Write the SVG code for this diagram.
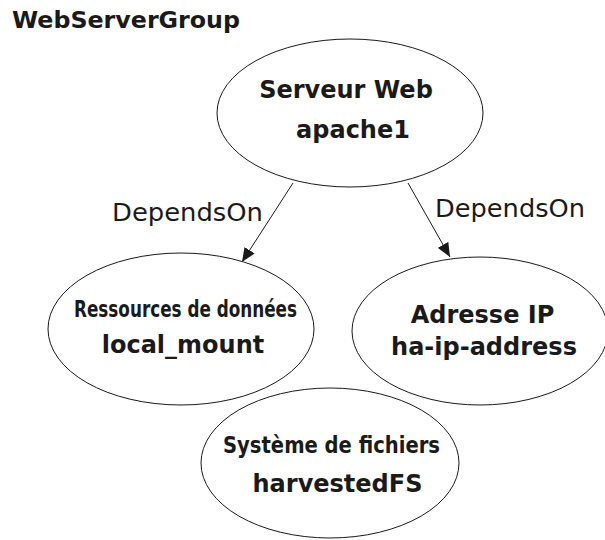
<svg xmlns="http://www.w3.org/2000/svg" width="605" height="540" viewBox="0 0 605 540">
  <style>
    .node { fill: #ffffff; stroke: #1a1a1a; stroke-width: 1; }
    .title { font-family: "DejaVu Sans", Verdana, sans-serif; font-weight: bold; font-size: 23px; fill: #1a1a1a; }
    .lbl { font-family: "DejaVu Sans", Verdana, sans-serif; font-weight: bold; font-size: 24px; fill: #1a1a1a; text-anchor: middle; }
    .cond { font-family: "DejaVu Sans", sans-serif; font-stretch: condensed; font-weight: bold; font-size: 23px; fill: #1a1a1a; text-anchor: middle; }
    .edge { stroke: #1a1a1a; stroke-width: 1; fill: none; marker-end: url(#arrow); }
    .elbl { font-family: "DejaVu Sans", Verdana, sans-serif; font-size: 25.5px; fill: #1a1a1a; }
  </style>
  <defs>
    <marker id="arrow" viewBox="0 0 14 12" refX="14" refY="6" markerWidth="14" markerHeight="12" markerUnits="userSpaceOnUse" orient="auto">
      <path d="M0,0 L14,6 L0,12 z" fill="#1a1a1a"/>
    </marker>
  </defs>
  <rect width="605" height="540" fill="#ffffff"/>

  <text class="title" x="12" y="28" textLength="228" lengthAdjust="spacingAndGlyphs">WebServerGroup</text>

  <g id="connectors">
    <line class="edge" x1="293" y1="183" x2="242" y2="262"/>
    <line class="edge" x1="408" y1="183" x2="450" y2="257"/>
    <text class="elbl" x="112" y="221" textLength="151" lengthAdjust="spacingAndGlyphs">DependsOn</text>
    <text class="elbl" x="435" y="217" textLength="150" lengthAdjust="spacingAndGlyphs">DependsOn</text>
  </g>

  <g id="apache1">
    <ellipse class="node" cx="350" cy="113" rx="133" ry="74"/>
    <text class="lbl" x="346" y="98">Serveur Web</text>
    <text class="lbl" x="353" y="138">apache1</text>
  </g>

  <g id="local_mount">
    <ellipse class="node" cx="181" cy="329" rx="133" ry="76"/>
    <text class="cond" x="185.5" y="317" textLength="223" lengthAdjust="spacingAndGlyphs">Ressources de données</text>
    <text class="lbl" x="183" y="353">local_mount</text>
  </g>

  <g id="ha-ip-address">
    <ellipse class="node" cx="480" cy="331" rx="128" ry="74"/>
    <text class="lbl" x="482.5" y="323">Adresse IP</text>
    <text class="lbl" x="484" y="355">ha-ip-address</text>
  </g>

  <g id="harvestedFS">
    <ellipse class="node" cx="330" cy="463" rx="129" ry="75"/>
    <text class="cond" x="331.5" y="453" textLength="217" lengthAdjust="spacingAndGlyphs">Système de fichiers</text>
    <text class="lbl" x="337.5" y="492">harvestedFS</text>
  </g>
</svg>
